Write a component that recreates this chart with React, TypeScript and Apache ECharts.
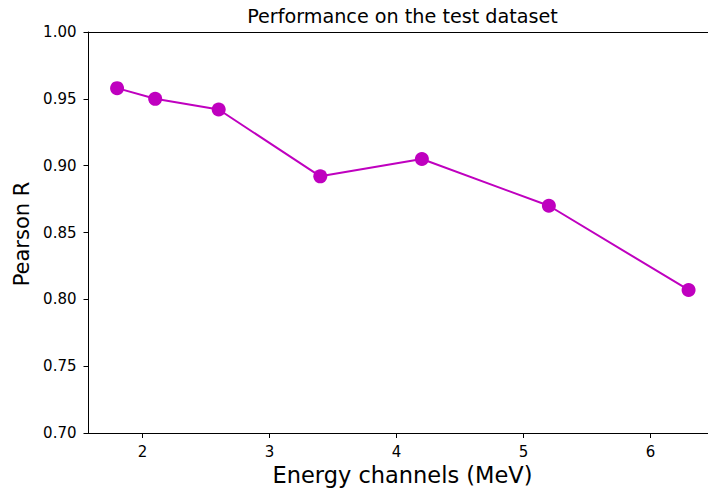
import React, { useEffect, useRef } from "react";
import * as echarts from "echarts";

// Energy channel (MeV) vs. Pearson correlation on the test set
const energyChannels = [1.8, 2.1, 2.6, 3.4, 4.2, 5.2, 6.3];
const pearsonR = [0.958, 0.95, 0.942, 0.892, 0.905, 0.870, 0.807];

const xTicks = [2, 3, 4, 5, 6];
const yTicks = [0.7, 0.75, 0.8, 0.85, 0.9, 0.95, 1.0];

const FONT = "DejaVu Sans";
const MAGENTA = "#bf00bf";

export default function App() {
  const ref = useRef<HTMLDivElement>(null);

  useEffect(() => {
    if (!ref.current) return;
    const chart = echarts.init(ref.current, undefined, { renderer: "svg" });
    const gridLeft = 88.5;
    const gridTop = 32;
    const gridWidth = 619.5;
    const gridHeight = 401;
    // x range chosen so one MeV spans 127 px; plot continues past the right edge
    const xMin = 1.575;
    const xMax = xMin + gridWidth / 127;
    const centerX = 402.5;

    chart.setOption({
      animation: false,
      backgroundColor: "#ffffff",
      grid: {
        left: gridLeft,
        top: gridTop,
        width: gridWidth,
        height: gridHeight,
        containLabel: false,
      },
      xAxis: [
        {
          type: "value",
          min: xMin,
          max: xMax,
          position: "bottom",
          splitLine: { show: false },
          axisLine: { show: true, onZero: false, lineStyle: { color: "#000", width: 1 } },
          axisTick: {
            show: true,
            customValues: xTicks,
            length: 5,
            lineStyle: { color: "#000", width: 1 },
          },
          axisLabel: {
            customValues: xTicks,
            formatter: (v: number) => String(v),
            color: "#000",
            fontFamily: FONT,
            fontSize: 15,
            margin: 11,
          },
        },
        {
          type: "value",
          min: xMin,
          max: xMax,
          position: "top",
          splitLine: { show: false },
          axisLine: { show: true, onZero: false, lineStyle: { color: "#000", width: 1 } },
          axisTick: { show: false },
          axisLabel: { show: false },
        },
      ],
      yAxis: {
        type: "value",
        min: 0.7,
        max: 1.0,
        splitLine: { show: false },
        axisLine: { show: true, onZero: false, lineStyle: { color: "#000", width: 1 } },
        axisTick: {
          show: true,
          customValues: yTicks,
          length: 5,
          lineStyle: { color: "#000", width: 1 },
        },
        axisLabel: {
          customValues: yTicks,
          formatter: (v: number) => v.toFixed(2),
          color: "#000",
          fontFamily: FONT,
          fontSize: 15,
          margin: 12,
        },
      },
      series: [
        {
          type: "line",
          xAxisIndex: 0,
          data: energyChannels.map((x, i) => [x, pearsonR[i]]),
          symbol: "circle",
          symbolSize: 14,
          showSymbol: true,
          lineStyle: { color: MAGENTA, width: 2 },
          itemStyle: { color: MAGENTA, borderWidth: 0 },
          emphasis: { disabled: true },
        },
      ],
      graphic: [
        {
          type: "text",
          x: centerX,
          y: 16,
          style: {
            text: "Performance on the test dataset",
            fontFamily: FONT,
            fontSize: 19.2,
            fill: "#000",
            align: "center",
            verticalAlign: "middle",
          },
        },
        {
          type: "text",
          x: centerX,
          y: 475,
          style: {
            text: "Energy channels (MeV)",
            fontFamily: FONT,
            fontSize: 22.5,
            fill: "#000",
            align: "center",
            verticalAlign: "middle",
          },
        },
        {
          type: "text",
          x: 22,
          y: 234,
          rotation: Math.PI / 2,
          style: {
            text: "Pearson R",
            fontFamily: FONT,
            fontSize: 21,
            fill: "#000",
            align: "center",
            verticalAlign: "middle",
          },
        },
      ],
    });

    return () => chart.dispose();
  }, []);

  return (
    <div
      ref={ref}
      style={{ position: "fixed", left: 0, top: 0, width: 708, height: 491, background: "#fff" }}
    />
  );
}
